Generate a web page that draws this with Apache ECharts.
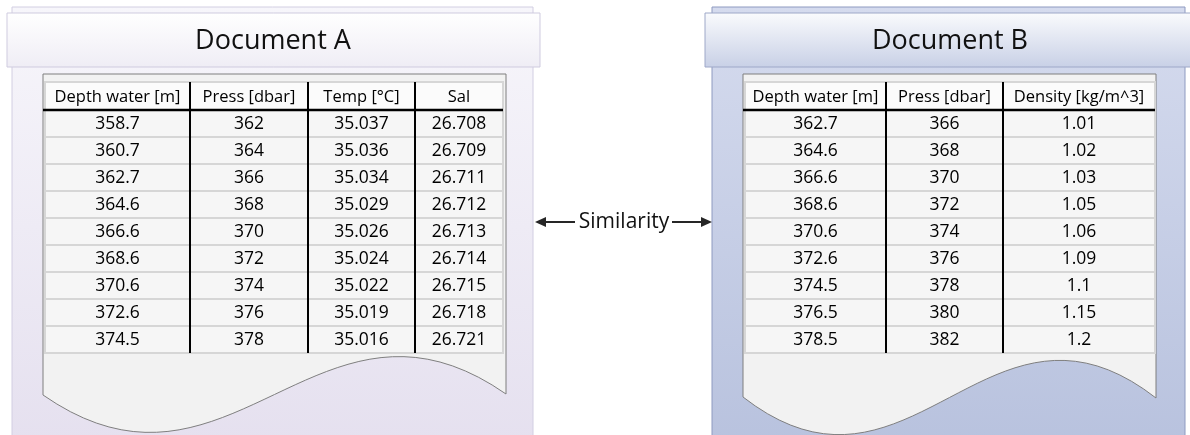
<!DOCTYPE html>
<html>
<head>
<meta charset="utf-8">
<script src="https://cdn.jsdelivr.net/npm/echarts@6/dist/echarts.min.js"></script>
<style>
html,body{margin:0;padding:0;background:#fff;}
#main{width:1190px;height:435px;}
</style>
</head>
<body>
<div id="main"></div>
<script>
// data
var titleA = 'Document A';
var titleB = 'Document B';
var linkText = 'Similarity';
var headA = ['Depth water [m]', 'Press [dbar]', 'Temp [°C]', 'Sal'];
var depthA = ['358.7', '360.7', '362.7', '364.6', '366.6', '368.6', '370.6', '372.6', '374.5'];
var pressA = ['362', '364', '366', '368', '370', '372', '374', '376', '378'];
var tempA = ['35.037', '35.036', '35.034', '35.029', '35.026', '35.024', '35.022', '35.019', '35.016'];
var salA = ['26.708', '26.709', '26.711', '26.712', '26.713', '26.714', '26.715', '26.718', '26.721'];
var headB = ['Depth water [m]', 'Press [dbar]', 'Density [kg/m^3]'];
var depthB = ['362.7', '364.6', '366.6', '368.6', '370.6', '372.6', '374.5', '376.5', '378.5'];
var pressB = ['366', '368', '370', '372', '374', '376', '378', '380', '382'];
var densB = ['1.01', '1.02', '1.03', '1.05', '1.06', '1.09', '1.1', '1.15', '1.2'];

var FONT = '"Open Sans", "Noto Sans", sans-serif';
var TOP = 82, HEAD_H = 28, ROW_H = 27;

function grad(c1, c2) {
	return new echarts.graphic.LinearGradient(0, 0, 0, 1, [
		{ offset: 0, color: c1 },
		{ offset: 1, color: c2 }
	]);
}

function $each(arr, fn) { for (var i = 0; i < arr.length; i++) fn(arr[i], i); }

// 文档纸张形状（底部波浪）
function paper(x0, x1, yL, yR, a, h) {
	var p0 = [x0, yL], p1 = [x0 + a, yL + h], p2 = [x1 - a, yR - h], p3 = [x1, yR];
	var pts = [[x0, 74], [x1, 74]];
	for (var i = 0; i <= 40; i++) {
		var t = 1 - i / 40, u = 1 - t;
		pts.push([
			u * u * u * p0[0] + 3 * u * u * t * p1[0] + 3 * u * t * t * p2[0] + t * t * t * p3[0],
			u * u * u * p0[1] + 3 * u * u * t * p1[1] + 3 * u * t * t * p2[1] + t * t * t * p3[1]
		]);
	}
	return {
		type: 'polygon',
		shape: { points: pts },
		style: { fill: '#f2f2f2', stroke: '#7f7f7f', lineWidth: 1 }
	};
}

// 表格
function table(left, right, seps, heads, cols) {
	var els = [];
	var bottom = TOP + HEAD_H + ROW_H * cols[0].length;
	var edges = [left].concat(seps).concat([right]);
	els.push({ type: 'rect', shape: { x: left, y: TOP, width: right - left, height: bottom - TOP },
		style: { fill: '#f6f6f6', stroke: '#d6d6d6', lineWidth: 2 } });
	els.push({ type: 'rect', shape: { x: left + 1, y: TOP + 1, width: right - left - 2, height: HEAD_H - 2 },
		style: { fill: '#fbfbfb' } });
	for (var r = 1; r < cols[0].length; r++) {
		var yy = TOP + HEAD_H + ROW_H * r;
		els.push({ type: 'line', shape: { x1: left, y1: yy, x2: right, y2: yy },
			style: { stroke: '#d6d6d6', lineWidth: 2 } });
	}
	$each(heads, function (txt, c) {
		var cx = (edges[c] + edges[c + 1]) / 2;
		els.push({ type: 'text', x: cx, y: TOP + HEAD_H / 2 + 1,
			style: { text: txt, fill: '#000', font: '16.5px ' + FONT, align: 'center', verticalAlign: 'middle' } });
		$each(cols[c], function (v, r) {
			els.push({ type: 'text', x: cx, y: TOP + HEAD_H + ROW_H * r + ROW_H / 2 + 1,
				style: { text: String(v), fill: '#000', font: '17.5px ' + FONT, align: 'center', verticalAlign: 'middle' } });
		});
	});
	seps.forEach(function (sx) {
		els.push({ type: 'line', shape: { x1: sx, y1: TOP, x2: sx, y2: bottom },
			style: { stroke: '#000', lineWidth: 2 } });
	});
	els.push({ type: 'line', shape: { x1: left - 2, y1: TOP + HEAD_H, x2: right, y2: TOP + HEAD_H },
		style: { stroke: '#000', lineWidth: 2.5 } });
	return els;
}

function arrowHead(tipX, y, dir) {
	return { type: 'polygon', shape: { points: [[tipX, y], [tipX - dir * 11, y - 5], [tipX - dir * 11, y + 5]] },
		style: { fill: '#262626' } };
}

var graphics = [];
// Document A
graphics.push({ type: 'rect', shape: { x: 12, y: 7, width: 521, height: 440 },
	style: { fill: grad('#f7f6fb', '#e5e0ef'), stroke: '#d2cee2', lineWidth: 1 } });
graphics.push({ type: 'rect', shape: { x: 7, y: 13, width: 533, height: 54 },
	style: { fill: grad('#ffffff', '#efedf5'), stroke: '#cfcbdf', lineWidth: 1 } });
graphics.push({ type: 'text', x: 273, y: 41,
	style: { text: titleA, fill: '#111', font: '27px ' + FONT, align: 'center', verticalAlign: 'middle' } });
graphics.push(paper(43, 506, 395, 394, 187, 130));
graphics = graphics.concat(table(45, 503, [190, 308, 415], headA, [depthA, pressA, tempA, salA]));

// Document B
graphics.push({ type: 'rect', shape: { x: 712, y: 7, width: 473, height: 440 },
	style: { fill: grad('#d5dbee', '#b8c2de'), stroke: '#8e9ac0', lineWidth: 1 } });
graphics.push({ type: 'rect', shape: { x: 705, y: 13, width: 500, height: 54 },
	style: { fill: grad('#fafbfd', '#c8d0e6'), stroke: '#9ea8c8', lineWidth: 1 } });
graphics.push({ type: 'text', x: 950, y: 41,
	style: { text: titleB, fill: '#111', font: '27px ' + FONT, align: 'center', verticalAlign: 'middle' } });
graphics.push(paper(743, 1156, 397, 398, 167, 130));
graphics = graphics.concat(table(745, 1155, [886, 1003], headB, [depthB, pressB, densB]));

// Similarity arrow
graphics.push({ type: 'line', shape: { x1: 540, y1: 222, x2: 575, y2: 222 }, style: { stroke: '#262626', lineWidth: 2 } });
graphics.push(arrowHead(535, 222, -1));
graphics.push({ type: 'line', shape: { x1: 672, y1: 222, x2: 706, y2: 222 }, style: { stroke: '#262626', lineWidth: 2 } });
graphics.push(arrowHead(712, 222, 1));
graphics.push({ type: 'text', x: 624, y: 222,
	style: { text: linkText, fill: '#111', font: '21px ' + FONT, align: 'center', verticalAlign: 'middle' } });

var myChart = echarts.init(document.getElementById('main'), null, { renderer: 'canvas' });
myChart.setOption({
	animation: false,
	graphic: { elements: graphics }
});
</script>
</body>
</html>
